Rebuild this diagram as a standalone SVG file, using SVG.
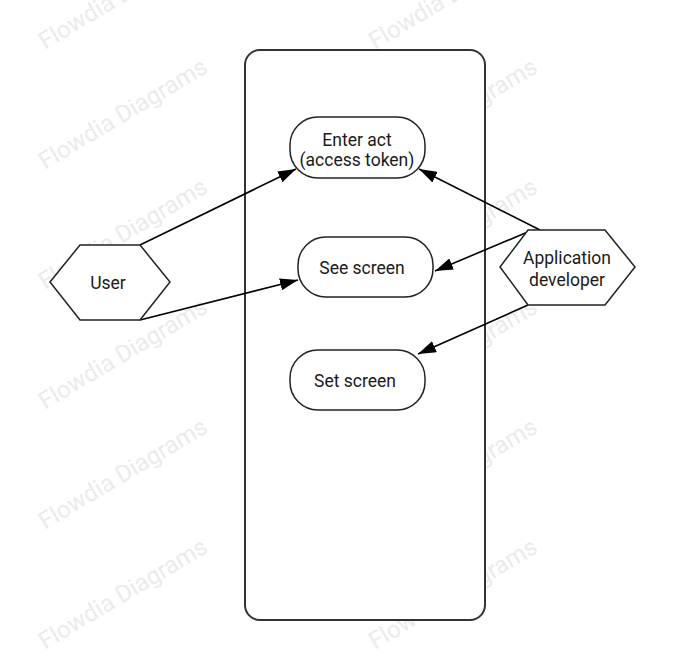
<svg xmlns="http://www.w3.org/2000/svg" width="685" height="670" viewBox="0 0 685 670">
<defs>
<style>
.wm{font-family:Roboto,"Liberation Sans",sans-serif;font-size:24px;fill:#ebebeb}
.node{fill:#fff;stroke:#222;stroke-width:1.5}
.cont{fill:#fff;stroke:#333;stroke-width:2}
.lbl{font-family:Roboto,"Liberation Sans",sans-serif;font-size:17.5px;fill:#1a1a1a;text-anchor:middle}
.edge{fill:none;stroke:#000;stroke-width:1.6}
</style>
<marker id="arr" viewBox="0 0 18 12" refX="18" refY="6" markerWidth="18" markerHeight="12" markerUnits="userSpaceOnUse" orient="auto">
<path d="M0,0 L18,6 L0,12 Z" fill="#000"/>
</marker>
</defs>
<rect width="685" height="670" fill="#fff"/>
<g id="watermarks">
<text class="wm" transform="translate(45,50) rotate(-31)">Flowdia Diagrams</text>
<text class="wm" transform="translate(45,170) rotate(-31)">Flowdia Diagrams</text>
<text class="wm" transform="translate(45,290) rotate(-31)">Flowdia Diagrams</text>
<text class="wm" transform="translate(45,410) rotate(-31)">Flowdia Diagrams</text>
<text class="wm" transform="translate(45,530) rotate(-31)">Flowdia Diagrams</text>
<text class="wm" transform="translate(45,650) rotate(-31)">Flowdia Diagrams</text>
<text class="wm" transform="translate(375,50) rotate(-31)">Flowdia Diagrams</text>
<text class="wm" transform="translate(375,170) rotate(-31)">Flowdia Diagrams</text>
<text class="wm" transform="translate(375,290) rotate(-31)">Flowdia Diagrams</text>
<text class="wm" transform="translate(375,410) rotate(-31)">Flowdia Diagrams</text>
<text class="wm" transform="translate(375,530) rotate(-31)">Flowdia Diagrams</text>
<text class="wm" transform="translate(375,650) rotate(-31)">Flowdia Diagrams</text>
</g>
<g id="system">
<rect class="cont" x="245" y="50" width="240" height="570" rx="15"/>
</g>
<g id="enter-act">
<rect class="node" x="290" y="117" width="135" height="61" rx="28"/>
<text class="lbl" x="357" y="146">Enter act</text>
<text class="lbl" x="357" y="166">(access token)</text>
</g>
<g id="see-screen">
<rect class="node" x="298" y="237" width="135" height="60" rx="28"/>
<text class="lbl" x="362" y="274">See screen</text>
</g>
<g id="set-screen">
<rect class="node" x="290" y="350" width="135" height="60" rx="28"/>
<text class="lbl" x="355" y="387">Set screen</text>
</g>
<g id="connectors">
<line class="edge" x1="140" y1="245" x2="296" y2="169" marker-end="url(#arr)"/>
<line class="edge" x1="140" y1="320" x2="298" y2="280" marker-end="url(#arr)"/>
<line class="edge" x1="540" y1="230" x2="419" y2="169" marker-end="url(#arr)"/>
<line class="edge" x1="530" y1="231" x2="435" y2="271" marker-end="url(#arr)"/>
<line class="edge" x1="528" y1="305" x2="418" y2="354" marker-end="url(#arr)"/>
</g>
<g id="user">
<polygon class="node" points="50,282 80,245 140,245 170,282 140,320 80,320"/>
<text class="lbl" x="108" y="289">User</text>
</g>
<g id="app-developer">
<polygon class="node" points="500,267 528,230 605,230 635,267 605,305 528,305"/>
<text class="lbl" x="567" y="264">Application</text>
<text class="lbl" x="567" y="286">developer</text>
</g>
</svg>
